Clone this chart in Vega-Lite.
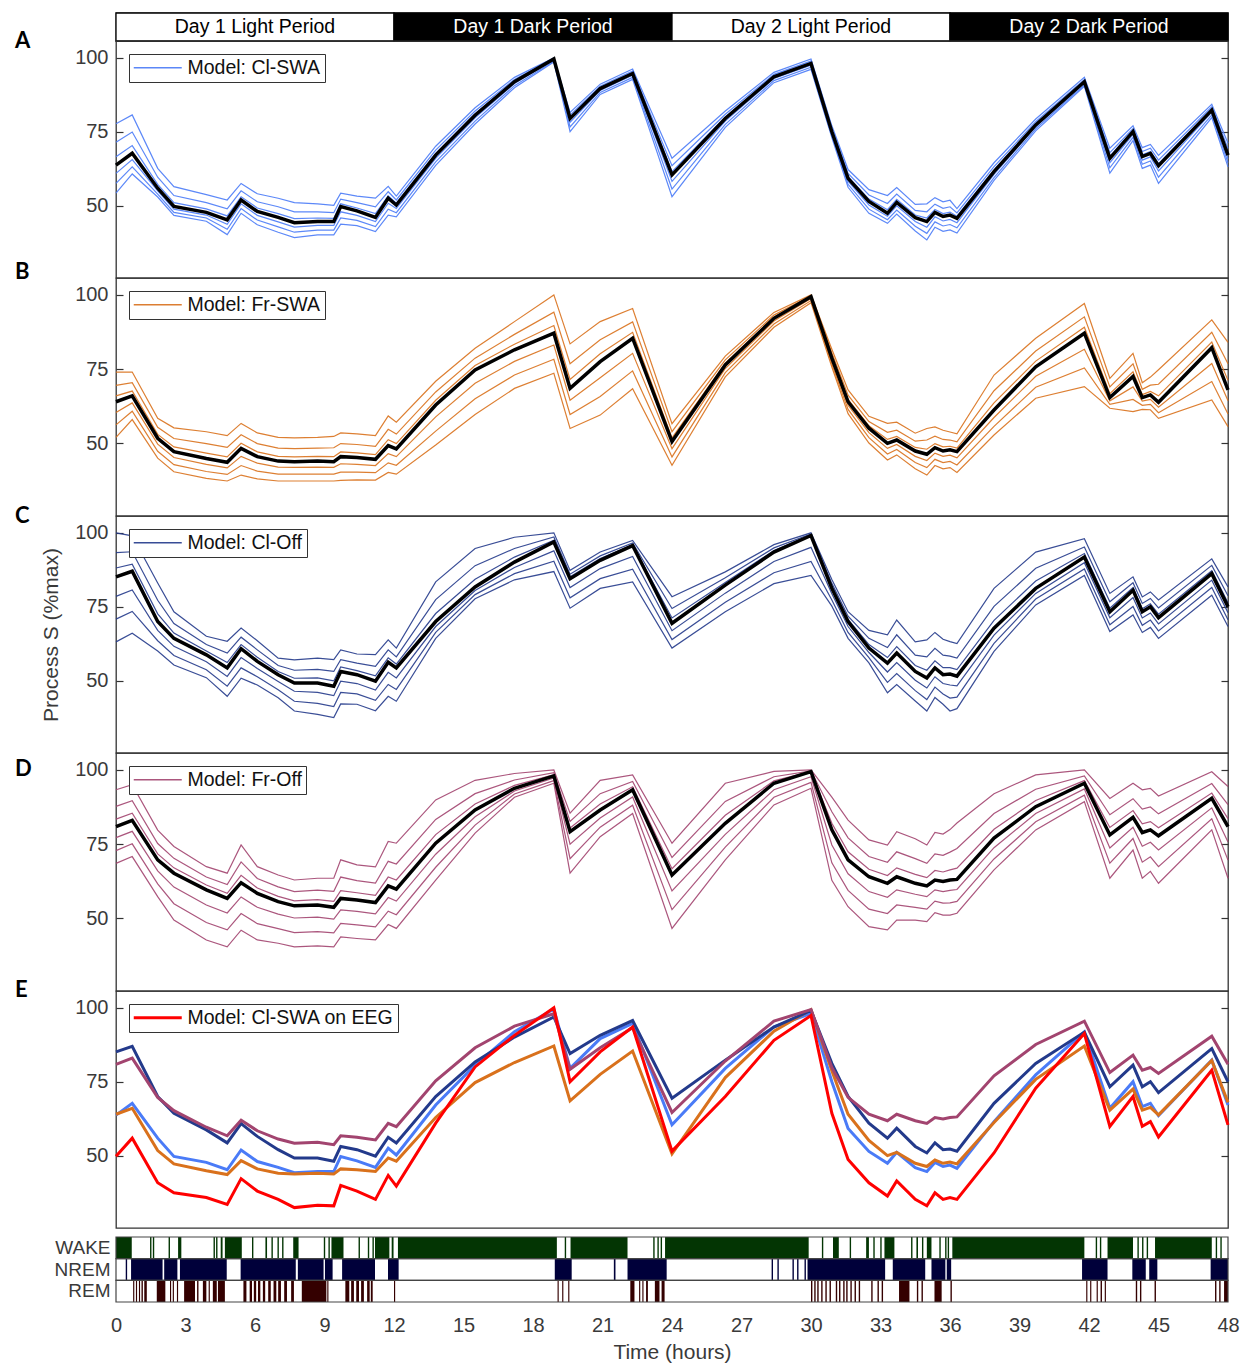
{
"$schema":"https://vega.github.io/schema/vega-lite/v6.json",
"background":"white",
"padding":{"left":14,"top":11,"right":10,"bottom":5},
"config":{"view":{"stroke":"#333","strokeWidth":1.3},"font":"Liberation Sans","axis":{"labelFont":"Liberation Sans","titleFont":"Liberation Sans","labelColor":"#3a3a3a","titleColor":"#3a3a3a"},"legend":{"labelFont":"Liberation Sans","labelLimit":400}},
"datasets":{
"periods":[{"label":"Day 1 Light Period","phase":"Light","s":0,"e":12},{"label":"Day 1 Dark Period","phase":"Dark","s":12,"e":24},{"label":"Day 2 Light Period","phase":"Light","s":24,"e":36},{"label":"Day 2 Dark Period","phase":"Dark","s":36,"e":48}],
"stages":[{"stage":"WAKE"},{"stage":"NREM"},{"stage":"REM"}],
"curves":[
{"p":"A","t":0,"m":63.7,"a":77.7,"b":71.4,"c":66.5,"d":60.9,"e":57.5,"f":54.2},
{"p":"A","t":0.7,"m":67.7,"a":80.7,"b":74.9,"c":70.3,"d":65.6,"e":63.1,"f":60.7},
{"p":"A","t":1.8,"m":55.9,"a":62.6,"b":59.6,"c":57.2,"d":55.0,"e":53.9,"f":52.9},
{"p":"A","t":2.5,"m":49.7,"a":56.4,"b":53.4,"c":51.0,"d":48.8,"e":47.7,"f":46.7},
{"p":"A","t":3.9,"m":47.7,"a":53.7,"b":51.0,"c":48.9,"d":46.8,"e":45.8,"f":44.7},
{"p":"A","t":4.8,"m":45.2,"a":51.9,"b":48.9,"c":46.5,"d":43.7,"e":42.0,"f":40.2},
{"p":"A","t":5.4,"m":51.9,"a":57.5,"b":55.0,"c":53.0,"d":50.6,"e":49.0,"f":47.4},
{"p":"A","t":6.1,"m":48.0,"a":54.0,"b":51.3,"c":49.2,"d":46.7,"e":45.1,"f":43.5},
{"p":"A","t":7.0,"m":46.0,"a":52.5,"b":49.6,"c":47.3,"d":44.5,"e":42.8,"f":41.0},
{"p":"A","t":7.7,"m":44.2,"a":51.0,"b":47.9,"c":45.6,"d":42.7,"e":41.0,"f":39.2},
{"p":"A","t":8.7,"m":44.6,"a":50.6,"b":47.9,"c":45.8,"d":43.3,"e":41.7,"f":40.1},
{"p":"A","t":9.4,"m":44.6,"a":50.1,"b":47.6,"c":45.7,"d":43.3,"e":41.7,"f":40.1},
{"p":"A","t":9.7,"m":49.7,"a":54.2,"b":52.2,"c":50.6,"d":47.9,"e":45.8,"f":43.7},
{"p":"A","t":10.4,"m":48.2,"a":53.2,"b":51.0,"c":49.2,"d":46.7,"e":45.0,"f":43.2},
{"p":"A","t":11.2,"m":46.0,"a":52.5,"b":49.6,"c":47.3,"d":44.6,"e":42.9,"f":41.2},
{"p":"A","t":11.75,"m":52.5,"a":56.5,"b":54.7,"c":53.3,"d":50.8,"e":48.8,"f":46.8},
{"p":"A","t":12.1,"m":50.2,"a":53.2,"b":51.9,"c":50.8,"d":49.0,"e":47.6,"f":46.2},
{"p":"A","t":13.8,"m":67.1,"a":70.1,"b":68.8,"c":67.7,"d":66.0,"e":64.8,"f":63.6},
{"p":"A","t":15.5,"m":80.6,"a":83.1,"b":82.0,"c":81.1,"d":79.7,"e":78.6,"f":77.6},
{"p":"A","t":17.2,"m":91.9,"a":93.4,"b":92.7,"c":92.2,"d":91.3,"e":90.6,"f":89.9},
{"p":"A","t":18.9,"m":99.6,"a":100,"b":99.8,"c":99.7,"d":99.3,"e":98.9,"f":98.6},
{"p":"A","t":19.6,"m":79.5,"a":81.5,"b":80.6,"c":79.9,"d":78.2,"e":76.6,"f":75.0},
{"p":"A","t":20.9,"m":89.6,"a":91.1,"b":90.4,"c":89.9,"d":89.0,"e":88.3,"f":87.6},
{"p":"A","t":22.3,"m":94.7,"a":96.2,"b":95.5,"c":95.0,"d":94.1,"e":93.4,"f":92.7},
{"p":"A","t":24.0,"m":60.4,"a":66.0,"b":63.5,"c":61.5,"d":58.2,"e":55.6,"f":53.0},
{"p":"A","t":26.3,"m":79.5,"a":82.0,"b":80.9,"c":80.0,"d":78.6,"e":77.5,"f":76.5},
{"p":"A","t":28.4,"m":93.6,"a":95.1,"b":94.4,"c":93.9,"d":93.0,"e":92.3,"f":91.6},
{"p":"A","t":30.0,"m":98.1,"a":99.6,"b":98.9,"c":98.4,"d":97.5,"e":96.8,"f":96.1},
{"p":"A","t":30.9,"m":75.0,"a":77.0,"b":76.1,"c":75.4,"d":74.4,"e":73.7,"f":73.0},
{"p":"A","t":31.6,"m":59.2,"a":62.2,"b":60.9,"c":59.8,"d":58.3,"e":57.2,"f":56.2},
{"p":"A","t":32.5,"m":51.4,"a":55.4,"b":53.6,"c":52.2,"d":50.2,"e":48.8,"f":47.4},
{"p":"A","t":33.3,"m":47.4,"a":53.4,"b":50.7,"c":48.6,"d":46.4,"e":45.2,"f":44.0},
{"p":"A","t":33.7,"m":51.1,"a":56.1,"b":53.9,"c":52.1,"d":49.9,"e":48.5,"f":47.1},
{"p":"A","t":34.5,"m":45.9,"a":50.4,"b":48.4,"c":46.8,"d":44.6,"e":43.0,"f":41.4},
{"p":"A","t":35.0,"m":44.6,"a":50.6,"b":47.9,"c":45.8,"d":42.7,"e":40.6,"f":38.4},
{"p":"A","t":35.35,"m":47.7,"a":52.7,"b":50.5,"c":48.7,"d":46.2,"e":44.5,"f":42.7},
{"p":"A","t":35.7,"m":46.3,"a":51.3,"b":49.1,"c":47.3,"d":44.8,"e":43.1,"f":41.3},
{"p":"A","t":36.0,"m":46.8,"a":51.8,"b":49.6,"c":47.8,"d":45.3,"e":43.6,"f":41.8},
{"p":"A","t":36.3,"m":45.7,"a":49.0,"b":47.5,"c":46.4,"d":44.2,"e":42.5,"f":40.7},
{"p":"A","t":37.9,"m":61.5,"a":64.5,"b":63.2,"c":62.1,"d":60.6,"e":59.5,"f":58.5},
{"p":"A","t":39.7,"m":77.3,"a":79.3,"b":78.4,"c":77.7,"d":76.7,"e":76.0,"f":75.3},
{"p":"A","t":41.8,"m":91.9,"a":93.4,"b":92.7,"c":92.2,"d":91.5,"e":90.9,"f":90.4},
{"p":"A","t":42.9,"m":66.0,"a":69.4,"b":67.9,"c":66.7,"d":64.5,"e":62.8,"f":61.0},
{"p":"A","t":43.9,"m":75.0,"a":77.0,"b":76.1,"c":75.4,"d":74.1,"e":73.1,"f":72.0},
{"p":"A","t":44.3,"m":66.6,"a":69.6,"b":68.3,"c":67.2,"d":65.4,"e":64.0,"f":62.6},
{"p":"A","t":44.65,"m":67.7,"a":70.7,"b":69.4,"c":68.3,"d":66.5,"e":65.1,"f":63.7},
{"p":"A","t":45.0,"m":63.5,"a":67.0,"b":65.4,"c":64.2,"d":61.7,"e":59.6,"f":57.5},
{"p":"A","t":47.3,"m":82.3,"a":84.3,"b":83.4,"c":82.7,"d":81.6,"e":80.7,"f":79.8},
{"p":"A","t":48.0,"m":67.1,"a":71.1,"b":69.3,"c":67.9,"d":65.9,"e":64.5,"f":63.1},
{"p":"B","t":0,"m":64.0,"a":74.0,"b":69.5,"c":66.0,"d":60.4,"e":56.2,"f":52.0},
{"p":"B","t":0.7,"m":66.0,"a":74.0,"b":70.4,"c":67.6,"d":63.6,"e":60.8,"f":58.0},
{"p":"B","t":1.8,"m":51.7,"a":58.4,"b":55.4,"c":53.0,"d":49.7,"e":47.3,"f":45.0},
{"p":"B","t":2.5,"m":47.2,"a":55.2,"b":51.6,"c":48.8,"d":45.2,"e":42.8,"f":40.4},
{"p":"B","t":3.9,"m":44.9,"a":53.9,"b":49.9,"c":46.7,"d":42.9,"e":40.5,"f":38.2},
{"p":"B","t":4.8,"m":43.6,"a":52.6,"b":48.6,"c":45.4,"d":41.7,"e":39.5,"f":37.3},
{"p":"B","t":5.4,"m":48.3,"a":56.7,"b":52.9,"c":50.0,"d":45.6,"e":42.5,"f":39.3},
{"p":"B","t":6.1,"m":45.5,"a":53.5,"b":49.9,"c":47.1,"d":43.3,"e":40.6,"f":38.0},
{"p":"B","t":7.0,"m":44.0,"a":52.0,"b":48.4,"c":45.6,"d":42.0,"e":39.6,"f":37.3},
{"p":"B","t":7.7,"m":43.8,"a":51.8,"b":48.2,"c":45.4,"d":41.9,"e":39.6,"f":37.3},
{"p":"B","t":8.7,"m":44.0,"a":52.0,"b":48.4,"c":45.6,"d":42.0,"e":39.6,"f":37.3},
{"p":"B","t":9.4,"m":43.8,"a":52.3,"b":48.5,"c":45.5,"d":41.9,"e":39.6,"f":37.3},
{"p":"B","t":9.7,"m":45.5,"a":53.5,"b":49.9,"c":47.1,"d":43.1,"e":40.3,"f":37.5},
{"p":"B","t":10.4,"m":45.2,"a":53.2,"b":49.6,"c":46.8,"d":42.9,"e":40.3,"f":37.7},
{"p":"B","t":11.2,"m":44.6,"a":52.6,"b":49.0,"c":46.2,"d":42.5,"e":40.1,"f":37.6},
{"p":"B","t":11.75,"m":49.2,"a":59.2,"b":54.7,"c":51.2,"d":46.5,"e":43.4,"f":40.2},
{"p":"B","t":12.1,"m":48.1,"a":57.1,"b":53.1,"c":49.9,"d":45.5,"e":42.6,"f":39.6},
{"p":"B","t":13.8,"m":62.9,"a":70.9,"b":67.3,"c":64.5,"d":58.9,"e":54.1,"f":49.4},
{"p":"B","t":15.5,"m":74.7,"a":82.0,"b":78.7,"c":76.2,"d":70.2,"e":65.0,"f":59.7},
{"p":"B","t":17.2,"m":81.5,"a":91.0,"b":86.7,"c":83.4,"d":77.6,"e":73.0,"f":68.5},
{"p":"B","t":18.9,"m":87.1,"a":100,"b":94.2,"c":89.7,"d":83.1,"e":78.3,"f":73.6},
{"p":"B","t":19.6,"m":68.5,"a":83.5,"b":76.8,"c":71.5,"d":64.5,"e":59.7,"f":55.0},
{"p":"B","t":20.9,"m":77.5,"a":91.0,"b":84.9,"c":80.2,"d":72.1,"e":65.8,"f":59.5},
{"p":"B","t":22.3,"m":85.4,"a":95.4,"b":90.9,"c":87.4,"d":80.3,"e":74.4,"f":68.4},
{"p":"B","t":24.0,"m":50.6,"a":56.6,"b":53.9,"c":51.8,"d":48.2,"e":45.4,"f":42.6},
{"p":"B","t":26.3,"m":76.4,"a":79.4,"b":78.1,"c":77.0,"d":75.2,"e":73.8,"f":72.4},
{"p":"B","t":28.4,"m":92.1,"a":94.1,"b":93.2,"c":92.5,"d":91.2,"e":90.2,"f":89.1},
{"p":"B","t":30.0,"m":99.4,"a":100,"b":99.7,"c":99.5,"d":98.8,"e":98.1,"f":97.4},
{"p":"B","t":30.9,"m":78.7,"a":81.7,"b":80.4,"c":79.3,"d":77.8,"e":76.7,"f":75.7},
{"p":"B","t":31.6,"m":64.0,"a":68.0,"b":66.2,"c":64.8,"d":62.8,"e":61.4,"f":60.0},
{"p":"B","t":32.5,"m":55.1,"a":59.1,"b":57.3,"c":55.9,"d":53.6,"e":51.9,"f":50.1},
{"p":"B","t":33.3,"m":50.0,"a":56.7,"b":53.7,"c":51.3,"d":48.3,"e":46.4,"f":44.4},
{"p":"B","t":33.7,"m":51.1,"a":57.1,"b":54.4,"c":52.3,"d":49.6,"e":47.9,"f":46.1},
{"p":"B","t":34.5,"m":47.4,"a":53.4,"b":50.7,"c":48.6,"d":45.6,"e":43.5,"f":41.4},
{"p":"B","t":35.0,"m":46.3,"a":55.0,"b":51.1,"c":48.0,"d":44.2,"e":41.8,"f":39.3},
{"p":"B","t":35.35,"m":48.5,"a":55.5,"b":52.4,"c":49.9,"d":46.7,"e":44.6,"f":42.5},
{"p":"B","t":35.7,"m":47.4,"a":54.4,"b":51.3,"c":48.8,"d":45.6,"e":43.5,"f":41.4},
{"p":"B","t":36.0,"m":47.8,"a":53.8,"b":51.1,"c":49.0,"d":46.0,"e":43.9,"f":41.8},
{"p":"B","t":36.3,"m":47.2,"a":53.2,"b":50.5,"c":48.4,"d":45.1,"e":42.7,"f":40.2},
{"p":"B","t":37.9,"m":61.2,"a":73.0,"b":67.7,"c":63.6,"d":58.7,"e":55.7,"f":52.8},
{"p":"B","t":39.7,"m":75.8,"a":85.4,"b":81.1,"c":77.7,"d":72.6,"e":68.9,"f":65.2},
{"p":"B","t":41.8,"m":87.1,"a":97.1,"b":92.6,"c":89.1,"d":81.7,"e":75.4,"f":69.1},
{"p":"B","t":42.9,"m":65.4,"a":71.9,"b":69.0,"c":66.7,"d":64.3,"e":63.1,"f":61.8},
{"p":"B","t":43.9,"m":72.5,"a":80.3,"b":76.8,"c":74.1,"d":69.0,"e":64.8,"f":60.7},
{"p":"B","t":44.3,"m":65.4,"a":70.4,"b":68.2,"c":66.4,"d":64.2,"e":62.8,"f":61.4},
{"p":"B","t":44.65,"m":66.3,"a":72.3,"b":69.6,"c":67.5,"d":64.8,"e":63.1,"f":61.3},
{"p":"B","t":45.0,"m":63.8,"a":74.8,"b":69.9,"c":66.0,"d":62.2,"e":60.3,"f":58.4},
{"p":"B","t":47.3,"m":82.2,"a":91.6,"b":87.4,"c":84.1,"d":76.9,"e":70.8,"f":64.6},
{"p":"B","t":48.0,"m":68.0,"a":84.0,"b":76.8,"c":71.2,"d":64.3,"e":59.9,"f":55.6},
{"p":"C","t":0,"m":85.1,"a":100,"b":93.3,"c":88.1,"d":78.5,"e":70.8,"f":63.1},
{"p":"C","t":0.7,"m":87.0,"a":99.0,"b":93.6,"c":89.4,"d":80.7,"e":73.4,"f":66.0},
{"p":"C","t":1.8,"m":70.0,"a":83.0,"b":77.2,"c":72.6,"d":67.0,"e":63.5,"f":60.0},
{"p":"C","t":2.5,"m":64.3,"a":73.3,"b":69.3,"c":66.1,"d":61.6,"e":58.5,"f":55.3},
{"p":"C","t":3.9,"m":58.7,"a":65.0,"b":62.2,"c":60.0,"d":56.4,"e":53.7,"f":51.0},
{"p":"C","t":4.8,"m":54.3,"a":63.3,"b":59.3,"c":56.1,"d":51.4,"e":48.1,"f":44.7},
{"p":"C","t":5.4,"m":60.8,"a":67.8,"b":64.7,"c":62.2,"d":57.8,"e":54.3,"f":50.8},
{"p":"C","t":6.1,"m":56.5,"a":63.5,"b":60.4,"c":57.9,"d":54.1,"e":51.3,"f":48.5},
{"p":"C","t":7.0,"m":52.0,"a":57.6,"b":55.1,"c":53.1,"d":49.7,"e":46.9,"f":44.2},
{"p":"C","t":7.7,"m":49.2,"a":57.0,"b":53.5,"c":50.8,"d":46.4,"e":43.0,"f":39.7},
{"p":"C","t":8.7,"m":49.2,"a":57.6,"b":53.8,"c":50.9,"d":46.0,"e":42.3,"f":38.6},
{"p":"C","t":9.4,"m":48.1,"a":57.1,"b":53.1,"c":49.9,"d":44.9,"e":41.2,"f":37.5},
{"p":"C","t":9.7,"m":53.1,"a":60.4,"b":57.1,"c":54.6,"d":49.8,"e":46.0,"f":42.1},
{"p":"C","t":10.4,"m":52.0,"a":59.0,"b":55.9,"c":53.4,"d":49.0,"e":45.5,"f":42.0},
{"p":"C","t":11.2,"m":49.8,"a":58.8,"b":54.8,"c":51.6,"d":46.8,"e":43.3,"f":39.8},
{"p":"C","t":11.75,"m":56.2,"a":63.8,"b":60.4,"c":57.7,"d":52.8,"e":48.7,"f":44.7},
{"p":"C","t":12.1,"m":54.3,"a":61.0,"b":58.0,"c":55.6,"d":50.9,"e":47.0,"f":43.0},
{"p":"C","t":13.8,"m":70.0,"a":83.4,"b":77.4,"c":72.7,"d":68.3,"e":66.3,"f":64.3},
{"p":"C","t":15.5,"m":81.7,"a":94.7,"b":88.9,"c":84.3,"d":80.5,"e":79.1,"f":77.7},
{"p":"C","t":17.2,"m":90.1,"a":98.5,"b":94.7,"c":91.8,"d":88.3,"e":86.2,"f":84.1},
{"p":"C","t":18.9,"m":96.9,"a":100,"b":98.6,"c":97.5,"d":93.9,"e":90.4,"f":86.9},
{"p":"C","t":19.6,"m":84.5,"a":87.3,"b":86.0,"c":85.1,"d":81.5,"e":78.0,"f":74.5},
{"p":"C","t":20.9,"m":90.7,"a":93.5,"b":92.2,"c":91.3,"d":87.9,"e":84.5,"f":81.2},
{"p":"C","t":22.3,"m":95.7,"a":97.4,"b":96.6,"c":96.0,"d":92.0,"e":87.7,"f":83.4},
{"p":"C","t":24.0,"m":69.4,"a":78.4,"b":74.4,"c":71.2,"d":66.9,"e":63.9,"f":61.0},
{"p":"C","t":26.3,"m":82.3,"a":86.8,"b":84.8,"c":83.2,"d":79.6,"e":76.5,"f":73.3},
{"p":"C","t":28.4,"m":93.5,"a":96.0,"b":94.9,"c":94.0,"d":90.3,"e":86.5,"f":82.8},
{"p":"C","t":30.0,"m":99.1,"a":100,"b":99.6,"c":99.3,"d":95.1,"e":90.3,"f":85.6},
{"p":"C","t":30.9,"m":81.2,"a":84.2,"b":82.9,"c":81.8,"d":79.4,"e":77.3,"f":75.2},
{"p":"C","t":31.6,"m":70.0,"a":73.3,"b":71.8,"c":70.7,"d":68.3,"e":66.3,"f":64.3},
{"p":"C","t":32.5,"m":61.0,"a":67.0,"b":64.3,"c":62.2,"d":59.5,"e":57.8,"f":56.0},
{"p":"C","t":33.3,"m":55.9,"a":65.5,"b":61.2,"c":57.8,"d":52.9,"e":49.4,"f":45.9},
{"p":"C","t":33.7,"m":59.3,"a":70.5,"b":65.5,"c":61.5,"d":56.1,"e":52.4,"f":48.7},
{"p":"C","t":34.5,"m":53.1,"a":63.1,"b":58.6,"c":55.1,"d":50.1,"e":46.6,"f":43.1},
{"p":"C","t":35.0,"m":50.9,"a":63.8,"b":58.0,"c":53.5,"d":47.5,"e":43.6,"f":39.7},
{"p":"C","t":35.35,"m":54.3,"a":66.3,"b":60.9,"c":56.7,"d":51.3,"e":47.8,"f":44.3},
{"p":"C","t":35.7,"m":52.0,"a":64.0,"b":58.6,"c":54.4,"d":49.0,"e":45.5,"f":42.0},
{"p":"C","t":36.0,"m":52.2,"a":63.2,"b":58.3,"c":54.4,"d":48.5,"e":44.1,"f":39.7},
{"p":"C","t":36.3,"m":51.5,"a":62.5,"b":57.6,"c":53.7,"d":48.2,"e":44.4,"f":40.5},
{"p":"C","t":37.9,"m":67.7,"a":81.2,"b":75.1,"c":70.4,"d":65.4,"e":62.6,"f":59.9},
{"p":"C","t":39.7,"m":81.2,"a":93.5,"b":88.0,"c":83.7,"d":79.5,"e":77.6,"f":75.6},
{"p":"C","t":41.8,"m":91.8,"a":98.0,"b":95.2,"c":93.0,"d":89.9,"e":87.8,"f":85.6},
{"p":"C","t":42.9,"m":73.3,"a":79.5,"b":76.7,"c":74.5,"d":71.3,"e":68.9,"f":66.6},
{"p":"C","t":43.9,"m":80.6,"a":85.1,"b":83.1,"c":81.5,"d":78.1,"e":75.1,"f":72.2},
{"p":"C","t":44.3,"m":73.3,"a":78.3,"b":76.1,"c":74.3,"d":71.2,"e":68.7,"f":66.3},
{"p":"C","t":44.65,"m":75.0,"a":80.0,"b":77.8,"c":76.0,"d":72.9,"e":70.5,"f":68.0},
{"p":"C","t":45.0,"m":71.3,"a":77.3,"b":74.6,"c":72.5,"d":69.2,"e":66.8,"f":64.3},
{"p":"C","t":47.3,"m":86.2,"a":91.2,"b":89.0,"c":87.2,"d":84.0,"e":81.5,"f":78.9},
{"p":"C","t":48.0,"m":75.0,"a":81.7,"b":78.7,"c":76.3,"d":73.0,"e":70.6,"f":68.3},
{"p":"D","t":0,"m":80.9,"a":93.3,"b":87.7,"c":83.4,"d":77.2,"e":72.8,"f":68.5},
{"p":"D","t":0.7,"m":83.0,"a":95.0,"b":89.6,"c":85.4,"d":79.3,"e":75.1,"f":70.8},
{"p":"D","t":1.8,"m":69.7,"a":79.7,"b":75.2,"c":71.7,"d":66.0,"e":61.6,"f":57.3},
{"p":"D","t":2.5,"m":65.2,"a":74.2,"b":70.2,"c":67.0,"d":60.5,"e":54.9,"f":49.4},
{"p":"D","t":3.9,"m":59.6,"a":67.4,"b":63.9,"c":61.2,"d":54.5,"e":48.6,"f":42.7},
{"p":"D","t":4.8,"m":56.7,"a":65.2,"b":61.4,"c":58.4,"d":51.8,"e":46.1,"f":40.4},
{"p":"D","t":5.4,"m":62.0,"a":74.7,"b":69.0,"c":64.5,"d":57.2,"e":51.6,"f":46.0},
{"p":"D","t":6.1,"m":58.4,"a":67.4,"b":63.4,"c":60.2,"d":53.7,"e":48.2,"f":42.7},
{"p":"D","t":7.0,"m":55.6,"a":64.6,"b":60.6,"c":57.4,"d":51.4,"e":46.5,"f":41.6},
{"p":"D","t":7.7,"m":54.2,"a":62.9,"b":59.0,"c":55.9,"d":50.1,"e":45.2,"f":40.4},
{"p":"D","t":8.7,"m":54.5,"a":63.5,"b":59.5,"c":56.3,"d":50.4,"e":45.5,"f":40.7},
{"p":"D","t":9.4,"m":53.7,"a":63.5,"b":59.1,"c":55.7,"d":49.7,"e":45.1,"f":40.4},
{"p":"D","t":9.7,"m":56.7,"a":69.7,"b":63.9,"c":59.3,"d":52.8,"e":48.3,"f":43.7},
{"p":"D","t":10.4,"m":56.2,"a":68.0,"b":62.7,"c":58.6,"d":52.3,"e":47.8,"f":43.2},
{"p":"D","t":11.2,"m":55.3,"a":67.3,"b":61.9,"c":57.7,"d":51.5,"e":47.1,"f":42.7},
{"p":"D","t":11.75,"m":60.9,"a":75.9,"b":69.2,"c":63.9,"d":57.0,"e":52.4,"f":47.9},
{"p":"D","t":12.1,"m":59.8,"a":75.3,"b":68.3,"c":62.9,"d":55.8,"e":51.2,"f":46.6},
{"p":"D","t":13.8,"m":75.3,"a":89.9,"b":83.3,"c":78.2,"d":71.6,"e":67.2,"f":62.9},
{"p":"D","t":15.5,"m":86.5,"a":96.5,"b":92.0,"c":88.5,"d":84.2,"e":81.4,"f":78.7},
{"p":"D","t":17.2,"m":93.8,"a":98.8,"b":96.6,"c":94.8,"d":92.9,"e":91.9,"f":90.8},
{"p":"D","t":18.9,"m":98.0,"a":100,"b":99.1,"c":98.4,"d":97.3,"e":96.4,"f":95.5},
{"p":"D","t":19.6,"m":79.2,"a":85.4,"b":82.6,"c":80.4,"d":75.0,"e":70.1,"f":65.2},
{"p":"D","t":20.9,"m":86.5,"a":96.5,"b":92.0,"c":88.5,"d":83.8,"e":80.7,"f":77.5},
{"p":"D","t":22.3,"m":93.3,"a":98.3,"b":96.1,"c":94.3,"d":90.9,"e":88.1,"f":85.3},
{"p":"D","t":24.0,"m":64.6,"a":75.3,"b":70.5,"c":66.7,"d":59.2,"e":52.9,"f":46.6},
{"p":"D","t":26.3,"m":82.0,"a":95.5,"b":89.4,"c":84.7,"d":78.3,"e":74.0,"f":69.7},
{"p":"D","t":28.4,"m":95.5,"a":99.5,"b":97.7,"c":96.3,"d":93.3,"e":90.8,"f":88.2},
{"p":"D","t":30.0,"m":99.4,"a":100,"b":99.7,"c":99.5,"d":97.7,"e":95.8,"f":93.8},
{"p":"D","t":30.9,"m":79.8,"a":90.8,"b":85.9,"c":82.0,"d":74.7,"e":68.7,"f":62.8},
{"p":"D","t":31.6,"m":69.7,"a":83.1,"b":77.1,"c":72.4,"d":65.0,"e":59.4,"f":53.9},
{"p":"D","t":32.5,"m":64.0,"a":76.4,"b":70.8,"c":66.5,"d":59.0,"e":53.1,"f":47.2},
{"p":"D","t":33.3,"m":61.8,"a":74.7,"b":68.9,"c":64.4,"d":57.1,"e":51.6,"f":46.1},
{"p":"D","t":33.7,"m":64.0,"a":79.2,"b":72.4,"c":67.0,"d":59.6,"e":54.5,"f":49.4},
{"p":"D","t":34.5,"m":61.8,"a":76.8,"b":70.1,"c":64.8,"d":58.1,"e":53.7,"f":49.4},
{"p":"D","t":35.0,"m":60.9,"a":74.7,"b":68.5,"c":63.7,"d":57.3,"e":53.1,"f":48.9},
{"p":"D","t":35.35,"m":62.9,"a":78.9,"b":71.7,"c":66.1,"d":59.6,"e":55.8,"f":51.9},
{"p":"D","t":35.7,"m":62.4,"a":78.4,"b":71.2,"c":65.6,"d":59.0,"e":55.1,"f":51.1},
{"p":"D","t":36.0,"m":62.9,"a":79.9,"b":72.3,"c":66.3,"d":59.4,"e":55.2,"f":51.1},
{"p":"D","t":36.3,"m":63.1,"a":82.1,"b":73.5,"c":66.9,"d":59.7,"e":55.7,"f":51.7},
{"p":"D","t":37.9,"m":77.0,"a":92.0,"b":85.3,"c":80.0,"d":73.8,"e":70.0,"f":66.3},
{"p":"D","t":39.7,"m":87.6,"a":98.3,"b":93.5,"c":89.7,"d":85.3,"e":82.5,"f":79.8},
{"p":"D","t":41.8,"m":95.5,"a":100,"b":98.0,"c":96.4,"d":93.6,"e":91.5,"f":89.3},
{"p":"D","t":42.9,"m":78.1,"a":90.4,"b":84.9,"c":80.6,"d":73.7,"e":68.6,"f":63.5},
{"p":"D","t":43.9,"m":84.0,"a":95.5,"b":90.3,"c":86.3,"d":80.7,"e":76.9,"f":73.0},
{"p":"D","t":44.3,"m":78.9,"a":93.3,"b":86.8,"c":81.8,"d":74.3,"e":68.9,"f":63.5},
{"p":"D","t":44.65,"m":79.8,"a":93.8,"b":87.5,"c":82.6,"d":75.6,"e":70.7,"f":65.8},
{"p":"D","t":45.0,"m":77.8,"a":91.2,"b":85.2,"c":80.5,"d":73.0,"e":67.4,"f":61.8},
{"p":"D","t":47.3,"m":90.4,"a":99.4,"b":95.4,"c":92.2,"d":87.2,"e":83.5,"f":79.8},
{"p":"D","t":48.0,"m":80.9,"a":94.4,"b":88.3,"c":83.6,"d":75.7,"e":69.6,"f":63.5}
],
"eeg":[
{"t":0,"v":49.8},{"t":0.7,"v":55.9},{"t":1.8,"v":40.8},{"t":2.5,"v":37.4},{"t":3.9,"v":35.8},{"t":4.8,"v":33.5},{"t":5.4,"v":42.2},{"t":6.1,"v":38.0},{"t":7.0,"v":35.2},{"t":7.7,"v":32.4},{"t":8.7,"v":33.2},{"t":9.4,"v":33.0},{"t":9.7,"v":39.9},{"t":10.4,"v":38.0},{"t":11.2,"v":35.2},{"t":11.75,"v":43.3},{"t":12.1,"v":39.7},{"t":13.8,"v":61.0},{"t":15.5,"v":80.0},{"t":17.2,"v":90.7},{"t":18.9,"v":100},{"t":19.6,"v":75.0},{"t":20.9,"v":85.1},{"t":22.3,"v":93.5},{"t":24.0,"v":51.5},{"t":26.3,"v":70.0},{"t":28.4,"v":89.0},{"t":30.0,"v":97.4},{"t":30.9,"v":64.3},{"t":31.6,"v":48.7},{"t":32.5,"v":40.8},{"t":33.3,"v":36.3},{"t":33.7,"v":41.4},{"t":34.5,"v":35.2},{"t":35.0,"v":33.0},{"t":35.35,"v":37.4},{"t":35.7,"v":35.2},{"t":36.0,"v":35.8},{"t":36.3,"v":35.2},{"t":37.9,"v":50.9},{"t":39.7,"v":72.8},{"t":41.8,"v":91.3},{"t":42.9,"v":59.9},{"t":43.9,"v":70.0},{"t":44.3,"v":59.9},{"t":44.65,"v":61.5},{"t":45.0,"v":56.3},{"t":47.3,"v":78.9},{"t":48.0,"v":60.4}
],
"sleep":[
{"stage":"WAKE","s":0,"e":0.68},{"stage":"WAKE","s":1.47,"e":1.53},{"stage":"WAKE","s":1.59,"e":1.65},{"stage":"WAKE","s":2.27,"e":2.33},{"stage":"WAKE","s":2.68,"e":2.82},{"stage":"WAKE","s":4.21,"e":4.27},{"stage":"WAKE","s":4.32,"e":4.38},{"stage":"WAKE","s":4.52,"e":4.6},{"stage":"WAKE","s":4.7,"e":5.43},{"stage":"WAKE","s":5.87,"e":5.93},{"stage":"WAKE","s":6.45,"e":6.52},{"stage":"WAKE","s":6.71,"e":6.77},{"stage":"WAKE","s":6.97,"e":7.03},{"stage":"WAKE","s":7.17,"e":7.23},{"stage":"WAKE","s":7.65,"e":7.88},{"stage":"WAKE","s":8.97,"e":9.03},{"stage":"WAKE","s":9.17,"e":9.23},{"stage":"WAKE","s":9.3,"e":9.82},{"stage":"WAKE","s":10.47,"e":10.53},{"stage":"WAKE","s":10.87,"e":10.93},{"stage":"WAKE","s":11.07,"e":11.13},{"stage":"WAKE","s":11.18,"e":11.8},{"stage":"WAKE","s":11.9,"e":11.98},{"stage":"WAKE","s":12.17,"e":19.03},{"stage":"WAKE","s":19.37,"e":19.43},{"stage":"WAKE","s":19.62,"e":22.08},{"stage":"WAKE","s":23.19,"e":23.25},{"stage":"WAKE","s":23.37,"e":23.43},{"stage":"WAKE","s":23.51,"e":23.57},{"stage":"WAKE","s":23.7,"e":29.9},{"stage":"WAKE","s":30.47,"e":30.53},{"stage":"WAKE","s":30.95,"e":31.2},{"stage":"WAKE","s":31.67,"e":31.73},{"stage":"WAKE","s":32.38,"e":32.5},{"stage":"WAKE","s":32.69,"e":32.75},{"stage":"WAKE","s":32.99,"e":33.05},{"stage":"WAKE","s":33.17,"e":33.6},{"stage":"WAKE","s":34.32,"e":34.38},{"stage":"WAKE","s":34.55,"e":34.62},{"stage":"WAKE","s":34.79,"e":34.85},{"stage":"WAKE","s":35.0,"e":35.2},{"stage":"WAKE","s":35.54,"e":35.6},{"stage":"WAKE","s":35.79,"e":35.85},{"stage":"WAKE","s":35.9,"e":35.96},{"stage":"WAKE","s":36.1,"e":41.8},{"stage":"WAKE","s":42.29,"e":42.35},{"stage":"WAKE","s":42.47,"e":42.53},{"stage":"WAKE","s":42.8,"e":43.9},{"stage":"WAKE","s":44.09,"e":44.15},{"stage":"WAKE","s":44.29,"e":44.35},{"stage":"WAKE","s":44.49,"e":44.55},{"stage":"WAKE","s":44.85,"e":47.3},{"stage":"WAKE","s":47.47,"e":47.53},{"stage":"WAKE","s":47.67,"e":47.73},
{"stage":"NREM","s":0.42,"e":0.48},{"stage":"NREM","s":0.65,"e":2.01},{"stage":"NREM","s":2.08,"e":2.65},{"stage":"NREM","s":2.76,"e":4.78},{"stage":"NREM","s":5.38,"e":7.76},{"stage":"NREM","s":7.85,"e":8.96},{"stage":"NREM","s":9.02,"e":9.35},{"stage":"NREM","s":9.76,"e":11.18},{"stage":"NREM","s":11.74,"e":12.2},{"stage":"NREM","s":18.94,"e":19.67},{"stage":"NREM","s":21.49,"e":21.56},{"stage":"NREM","s":22.08,"e":23.77},{"stage":"NREM","s":28.3,"e":28.36},{"stage":"NREM","s":28.55,"e":28.61},{"stage":"NREM","s":29.2,"e":29.26},{"stage":"NREM","s":29.4,"e":29.46},{"stage":"NREM","s":29.72,"e":29.78},{"stage":"NREM","s":29.85,"e":33.2},{"stage":"NREM","s":33.53,"e":34.93},{"stage":"NREM","s":35.2,"e":35.8},{"stage":"NREM","s":35.86,"e":36.05},{"stage":"NREM","s":41.7,"e":42.8},{"stage":"NREM","s":43.87,"e":44.45},{"stage":"NREM","s":44.6,"e":44.95},{"stage":"NREM","s":47.25,"e":48},
{"stage":"REM","s":0.74,"e":0.79},{"stage":"REM","s":0.86,"e":0.91},{"stage":"REM","s":0.99,"e":1.04},{"stage":"REM","s":1.1,"e":1.16},{"stage":"REM","s":1.22,"e":1.33},{"stage":"REM","s":1.76,"e":2.13},{"stage":"REM","s":2.33,"e":2.38},{"stage":"REM","s":2.45,"e":2.5},{"stage":"REM","s":2.63,"e":2.68},{"stage":"REM","s":2.94,"e":3.41},{"stage":"REM","s":3.5,"e":3.56},{"stage":"REM","s":3.75,"e":3.9},{"stage":"REM","s":4.0,"e":4.05},{"stage":"REM","s":4.18,"e":4.35},{"stage":"REM","s":4.4,"e":4.7},{"stage":"REM","s":5.5,"e":5.63},{"stage":"REM","s":5.77,"e":5.87},{"stage":"REM","s":5.95,"e":6.05},{"stage":"REM","s":6.13,"e":6.23},{"stage":"REM","s":6.34,"e":6.44},{"stage":"REM","s":6.57,"e":6.68},{"stage":"REM","s":6.8,"e":6.92},{"stage":"REM","s":7.0,"e":7.12},{"stage":"REM","s":7.26,"e":7.38},{"stage":"REM","s":7.56,"e":7.68},{"stage":"REM","s":8.02,"e":9.08},{"stage":"REM","s":9.12,"e":9.17},{"stage":"REM","s":9.9,"e":10.07},{"stage":"REM","s":10.15,"e":10.27},{"stage":"REM","s":10.37,"e":10.49},{"stage":"REM","s":10.58,"e":10.7},{"stage":"REM","s":10.84,"e":10.95},{"stage":"REM","s":11.0,"e":11.08},{"stage":"REM","s":12.0,"e":12.05},{"stage":"REM","s":19.06,"e":19.11},{"stage":"REM","s":19.26,"e":19.31},{"stage":"REM","s":19.52,"e":19.57},{"stage":"REM","s":22.2,"e":22.38},{"stage":"REM","s":22.58,"e":22.63},{"stage":"REM","s":22.72,"e":22.77},{"stage":"REM","s":22.88,"e":22.96},{"stage":"REM","s":23.26,"e":23.46},{"stage":"REM","s":23.55,"e":23.68},{"stage":"REM","s":30.0,"e":30.06},{"stage":"REM","s":30.14,"e":30.2},{"stage":"REM","s":30.27,"e":30.33},{"stage":"REM","s":30.44,"e":30.5},{"stage":"REM","s":30.62,"e":30.68},{"stage":"REM","s":30.8,"e":30.86},{"stage":"REM","s":31.07,"e":31.13},{"stage":"REM","s":31.21,"e":31.27},{"stage":"REM","s":31.39,"e":31.45},{"stage":"REM","s":31.52,"e":31.58},{"stage":"REM","s":31.7,"e":31.76},{"stage":"REM","s":31.88,"e":31.94},{"stage":"REM","s":32.06,"e":32.12},{"stage":"REM","s":32.6,"e":32.66},{"stage":"REM","s":32.87,"e":32.93},{"stage":"REM","s":33.05,"e":33.11},{"stage":"REM","s":33.8,"e":34.25},{"stage":"REM","s":34.57,"e":34.63},{"stage":"REM","s":34.77,"e":34.83},{"stage":"REM","s":35.33,"e":35.64},{"stage":"REM","s":36.02,"e":36.08},{"stage":"REM","s":41.88,"e":41.93},{"stage":"REM","s":42.05,"e":42.1},{"stage":"REM","s":42.33,"e":42.38},{"stage":"REM","s":42.5,"e":42.56},{"stage":"REM","s":42.68,"e":42.73},{"stage":"REM","s":44.02,"e":44.08},{"stage":"REM","s":44.2,"e":44.26},{"stage":"REM","s":44.83,"e":44.89},{"stage":"REM","s":47.44,"e":47.5},{"stage":"REM","s":47.62,"e":47.68},{"stage":"REM","s":47.83,"e":48.0}
]
},
"vconcat":[
{"width":1112,"height":28,"data":{"name":"periods"},
 "layer":[
  {"mark":{"type":"rect","stroke":"black","strokeWidth":1.3},"encoding":{"x":{"field":"s","type":"quantitative","scale":{"domain":[0,48],"nice":false},"axis":null},"x2":{"field":"e"},"color":{"field":"phase","type":"nominal","scale":{"domain":["Light","Dark"],"range":["#ffffff","#000000"]},"legend":null}}},
  {"transform":[{"calculate":"(datum.s+datum.e)/2","as":"mid"}],"mark":{"type":"text","fontSize":19.5,"font":"Liberation Sans","baseline":"middle"},"encoding":{"x":{"field":"mid","type":"quantitative"},"text":{"field":"label"},"color":{"field":"phase","type":"nominal","scale":{"domain":["Light","Dark"],"range":["#000000","#ffffff"]},"legend":null}}}
 ],
 "resolve":{"scale":{"color":"independent"}}},
{"width":1112,"height":237,
 "title":{"text":"A","anchor":"start","frame":"group","orient":"top","offset":0,"dx":-101,"dy":22,"baseline":"middle","align":"left","fontSize":22,"fontWeight":"bold","font":"Lato","color":"#000"},
 "data":{"name":"curves"},"transform":[{"filter":"datum.p==='A'"}],
 "layer":[
  {"transform":[{"fold":["a","b","c","d","e","f"],"as":["run","v"]}],
   "mark":{"type":"line","strokeWidth":1.2,"opacity":0.9},
   "encoding":{"x":{"field":"t","type":"quantitative","scale":{"domain":[0,48],"nice":false},"axis":null},
    "y":{"field":"v","type":"quantitative","scale":{"domain":[25.5,105.7],"nice":false,"zero":false},"axis":{"values":[50,75,100],"tickSize":-7,"tickColor":"#333","tickWidth":1.2,"domain":false,"grid":false,"labelFontSize":20,"labelPadding":15,"title":null}},
    "detail":{"field":"run","type":"nominal"},
    "color":{"datum":"Model: Cl-SWA","type":"nominal","scale":{"range":["#4a7bf7"]},"legend":{"title":null,"orient":"top-left","offset":13,"padding":4,"strokeColor":"#333","fillColor":"white","symbolType":"M-4.8,0H4.8","symbolSize":100,"symbolStrokeWidth":1.5,"symbolOffset":15,"labelOffset":20,"labelFontSize":19.5,"labelColor":"#111"}}}},
  {"mark":{"type":"line","strokeWidth":3.5,"color":"#000"},
   "encoding":{"x":{"field":"t","type":"quantitative"},"y":{"field":"m","type":"quantitative","axis":{"orient":"right","values":[50,75,100],"tickSize":-7,"tickColor":"#333","tickWidth":1.2,"domain":false,"grid":false,"labels":false,"title":null}}}}
 ],
 "resolve":{"axis":{"y":"independent"}}},
{"width":1112,"height":238,
 "title":{"text":"B","anchor":"start","frame":"group","orient":"top","offset":0,"dx":-101,"dy":16,"baseline":"middle","align":"left","fontSize":22,"fontWeight":"bold","font":"Lato","color":"#000"},
 "data":{"name":"curves"},"transform":[{"filter":"datum.p==='B'"}],
 "layer":[
  {"transform":[{"fold":["a","b","c","d","e","f"],"as":["run","v"]}],
   "mark":{"type":"line","strokeWidth":1.2,"opacity":0.9},
   "encoding":{"x":{"field":"t","type":"quantitative","scale":{"domain":[0,48],"nice":false},"axis":null},
    "y":{"field":"v","type":"quantitative","scale":{"domain":[25.5,105.7],"nice":false,"zero":false},"axis":{"values":[50,75,100],"tickSize":-7,"tickColor":"#333","tickWidth":1.2,"domain":false,"grid":false,"labelFontSize":20,"labelPadding":15,"title":null}},
    "detail":{"field":"run","type":"nominal"},
    "color":{"datum":"Model: Fr-SWA","type":"nominal","scale":{"range":["#d9711c"]},"legend":{"title":null,"orient":"top-left","offset":13,"padding":4,"strokeColor":"#333","fillColor":"white","symbolType":"M-4.8,0H4.8","symbolSize":100,"symbolStrokeWidth":1.5,"symbolOffset":15,"labelOffset":20,"labelFontSize":19.5,"labelColor":"#111"}}}},
  {"mark":{"type":"line","strokeWidth":3.5,"color":"#000"},
   "encoding":{"x":{"field":"t","type":"quantitative"},"y":{"field":"m","type":"quantitative","axis":{"orient":"right","values":[50,75,100],"tickSize":-7,"tickColor":"#333","tickWidth":1.2,"domain":false,"grid":false,"labels":false,"title":null}}}}
 ],
 "resolve":{"axis":{"y":"independent"}}},
{"width":1112,"height":237,
 "title":{"text":"C","anchor":"start","frame":"group","orient":"top","offset":0,"dx":-101,"dy":22,"baseline":"middle","align":"left","fontSize":22,"fontWeight":"bold","font":"Lato","color":"#000"},
 "data":{"name":"curves"},"transform":[{"filter":"datum.p==='C'"}],
 "layer":[
  {"transform":[{"fold":["a","b","c","d","e","f"],"as":["run","v"]}],
   "mark":{"type":"line","strokeWidth":1.2,"opacity":0.9},
   "encoding":{"x":{"field":"t","type":"quantitative","scale":{"domain":[0,48],"nice":false},"axis":null},
    "y":{"field":"v","type":"quantitative","scale":{"domain":[25.5,105.7],"nice":false,"zero":false},"axis":{"values":[50,75,100],"tickSize":-7,"tickColor":"#333","tickWidth":1.2,"domain":false,"grid":false,"labelFontSize":20,"labelPadding":15,"title":"Process S (%max)","titleFontSize":21,"titleFontWeight":"normal","titlePadding":13}},
    "detail":{"field":"run","type":"nominal"},
    "color":{"datum":"Model: Cl-Off","type":"nominal","scale":{"range":["#233a8b"]},"legend":{"title":null,"orient":"top-left","offset":13,"padding":4,"strokeColor":"#333","fillColor":"white","symbolType":"M-4.8,0H4.8","symbolSize":100,"symbolStrokeWidth":1.5,"symbolOffset":15,"labelOffset":20,"labelFontSize":19.5,"labelColor":"#111"}}}},
  {"mark":{"type":"line","strokeWidth":3.5,"color":"#000"},
   "encoding":{"x":{"field":"t","type":"quantitative"},"y":{"field":"m","type":"quantitative","axis":{"orient":"right","values":[50,75,100],"tickSize":-7,"tickColor":"#333","tickWidth":1.2,"domain":false,"grid":false,"labels":false,"title":null}}}}
 ],
 "resolve":{"axis":{"y":"independent"}}},
{"width":1112,"height":238,
 "title":{"text":"D","anchor":"start","frame":"group","orient":"top","offset":0,"dx":-101,"dy":38,"baseline":"middle","align":"left","fontSize":22,"fontWeight":"bold","font":"Lato","color":"#000"},
 "data":{"name":"curves"},"transform":[{"filter":"datum.p==='D'"}],
 "layer":[
  {"transform":[{"fold":["a","b","c","d","e","f"],"as":["run","v"]}],
   "mark":{"type":"line","strokeWidth":1.2,"opacity":0.9},
   "encoding":{"x":{"field":"t","type":"quantitative","scale":{"domain":[0,48],"nice":false},"axis":null},
    "y":{"field":"v","type":"quantitative","scale":{"domain":[25.5,105.7],"nice":false,"zero":false},"axis":{"values":[50,75,100],"tickSize":-7,"tickColor":"#333","tickWidth":1.2,"domain":false,"grid":false,"labelFontSize":20,"labelPadding":15,"title":null}},
    "detail":{"field":"run","type":"nominal"},
    "color":{"datum":"Model: Fr-Off","type":"nominal","scale":{"range":["#a2446f"]},"legend":{"title":null,"orient":"top-left","offset":13,"padding":4,"strokeColor":"#333","fillColor":"white","symbolType":"M-4.8,0H4.8","symbolSize":100,"symbolStrokeWidth":1.5,"symbolOffset":15,"labelOffset":20,"labelFontSize":19.5,"labelColor":"#111"}}}},
  {"mark":{"type":"line","strokeWidth":3.5,"color":"#000"},
   "encoding":{"x":{"field":"t","type":"quantitative"},"y":{"field":"m","type":"quantitative","axis":{"orient":"right","values":[50,75,100],"tickSize":-7,"tickColor":"#333","tickWidth":1.2,"domain":false,"grid":false,"labels":false,"title":null}}}}
 ],
 "resolve":{"axis":{"y":"independent"}}},
{"width":1112,"height":237,
 "title":{"text":"E","anchor":"start","frame":"group","orient":"top","offset":0,"dx":-101,"dy":21,"baseline":"middle","align":"left","fontSize":22,"fontWeight":"bold","font":"Lato","color":"#000"},
 "layer":[
  {"data":{"name":"curves"},
   "mark":{"type":"line","strokeWidth":3},
   "encoding":{"x":{"field":"t","type":"quantitative","scale":{"domain":[0,48],"nice":false},"axis":null},
    "y":{"field":"m","type":"quantitative","scale":{"domain":[25.5,105.7],"nice":false,"zero":false},"axis":{"values":[50,75,100],"tickSize":-7,"tickColor":"#333","tickWidth":1.2,"domain":false,"grid":false,"labelFontSize":20,"labelPadding":15,"title":null}},
    "color":{"field":"p","type":"nominal","scale":{"domain":["A","B","C","D"],"range":["#4a7bf7","#d9711c","#233a8b","#a2446f"]},"legend":null}}},
  {"data":{"name":"eeg"},
   "mark":{"type":"line","strokeWidth":3},
   "encoding":{"x":{"field":"t","type":"quantitative"},"y":{"field":"v","type":"quantitative","axis":{"orient":"right","values":[50,75,100],"tickSize":-7,"tickColor":"#333","tickWidth":1.2,"domain":false,"grid":false,"labels":false,"title":null}},
    "color":{"datum":"Model: Cl-SWA on EEG","type":"nominal","scale":{"range":["#ff0000"]},"legend":{"title":null,"orient":"top-left","offset":13,"padding":4,"strokeColor":"#333","fillColor":"white","symbolType":"M-4.8,0H4.8","symbolSize":100,"symbolStrokeWidth":3,"symbolOffset":15,"labelOffset":20,"labelFontSize":19.5,"labelColor":"#111"}}}}
 ],
 "resolve":{"axis":{"y":"independent"},"scale":{"color":"independent"}}},
{"width":1112,"height":74,"view":{"stroke":null},
 "layer":[
  {"data":{"name":"sleep"},"mark":{"type":"rect"},
   "encoding":{"x":{"field":"s","type":"quantitative","scale":{"domain":[0,48],"nice":false},"axis":{"values":[0,3,6,9,12,15,18,21,24,27,30,33,36,39,42,45,48],"ticks":false,"domain":false,"grid":false,"labelFontSize":20,"labelPadding":13,"labelFlush":false,"title":"Time (hours)","titleFontSize":21,"titleFontWeight":"normal","titlePadding":6}},
    "x2":{"field":"e"},
    "y":{"field":"stage","type":"nominal","scale":{"domain":["WAKE","NREM","REM"],"range":[9,74],"paddingInner":0,"paddingOuter":0},"axis":{"ticks":false,"domain":false,"labelFontSize":19,"labelPadding":6,"title":null}},
    "color":{"field":"stage","type":"nominal","scale":{"domain":["WAKE","NREM","REM"],"range":["#033503","#00003a","#340000"]},"legend":null}}},
  {"data":{"name":"stages"},"mark":{"type":"rect","filled":false,"stroke":"#444","strokeWidth":1.2},
   "encoding":{"x":{"datum":0},"x2":{"datum":48},"y":{"field":"stage","type":"nominal"}}}
 ]}
],
"spacing":0,"bounds":"flush",
"resolve":{"scale":{"color":"independent"},"legend":{"color":"independent"}}
}
